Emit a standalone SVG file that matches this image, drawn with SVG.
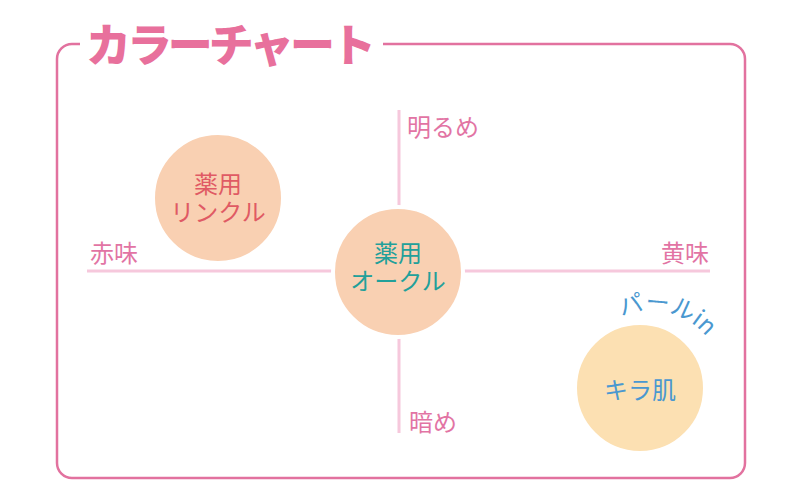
<svg xmlns="http://www.w3.org/2000/svg" width="800" height="500" viewBox="0 0 800 500">
<defs>
<style>
.jp{font-family:"Noto Sans CJK JP","Noto Sans",sans-serif;}
.title{font-size:45px;font-weight:900;fill:#e8709c;}
.axis{stroke:#f6c8dc;stroke-width:3;fill:none;}
.lbl{font-size:24px;fill:#e274a4;}
.ctext{font-size:24px;text-anchor:middle;}
.circ{stroke:#ffffff;stroke-width:4;}
</style>
<path id="pearlArc" d="M 612 322 A 72 72 0 0 1 722 372"/>
</defs>
<rect width="800" height="500" fill="#ffffff"/>
<path d="M 80 44 H 72 A 15 15 0 0 0 57 59 V 463 A 15 15 0 0 0 72 478 H 730 A 15 15 0 0 0 745 463 V 59 A 15 15 0 0 0 730 44 H 383" fill="none" stroke="#e2729f" stroke-width="2.5"/>
<text class="jp title" x="86" y="62" textLength="290" lengthAdjust="spacing">カラーチャート</text>
<g id="connectors">
<line class="axis" x1="87" y1="271" x2="710" y2="271"/>
<line class="axis" x1="399" y1="110" x2="399" y2="433"/>
</g>
<g id="labels">
<text class="jp lbl" x="90" y="262">赤味</text>
<text class="jp lbl" x="709" y="262" text-anchor="end">黄味</text>
<text class="jp lbl" x="407" y="136">明るめ</text>
<text class="jp lbl" x="409" y="431">暗め</text>
</g>
<g id="node-wrinkle">
<circle class="circ" cx="218" cy="198" r="65" fill="#f9d0b2"/>
<text class="jp ctext" x="218" y="193" fill="#e05a64">薬用</text>
<text class="jp ctext" x="218" y="221" fill="#e05a64">リンクル</text>
</g>
<g id="node-ochre">
<circle class="circ" cx="398" cy="272" r="65" fill="#f9d0b2"/>
<text class="jp ctext" x="398" y="262" fill="#22a09a">薬用</text>
<text class="jp ctext" x="398" y="290" fill="#22a09a">オークル</text>
</g>
<g id="node-kira">
<circle class="circ" cx="640" cy="388" r="65" fill="#fce0b2"/>
<text class="jp ctext" x="640" y="399" fill="#4a98d0">キラ肌</text>
<text class="jp" font-size="24" fill="#4a98d0"><textPath href="#pearlArc" startOffset="11">パールin</textPath></text>
</g>
</svg>
